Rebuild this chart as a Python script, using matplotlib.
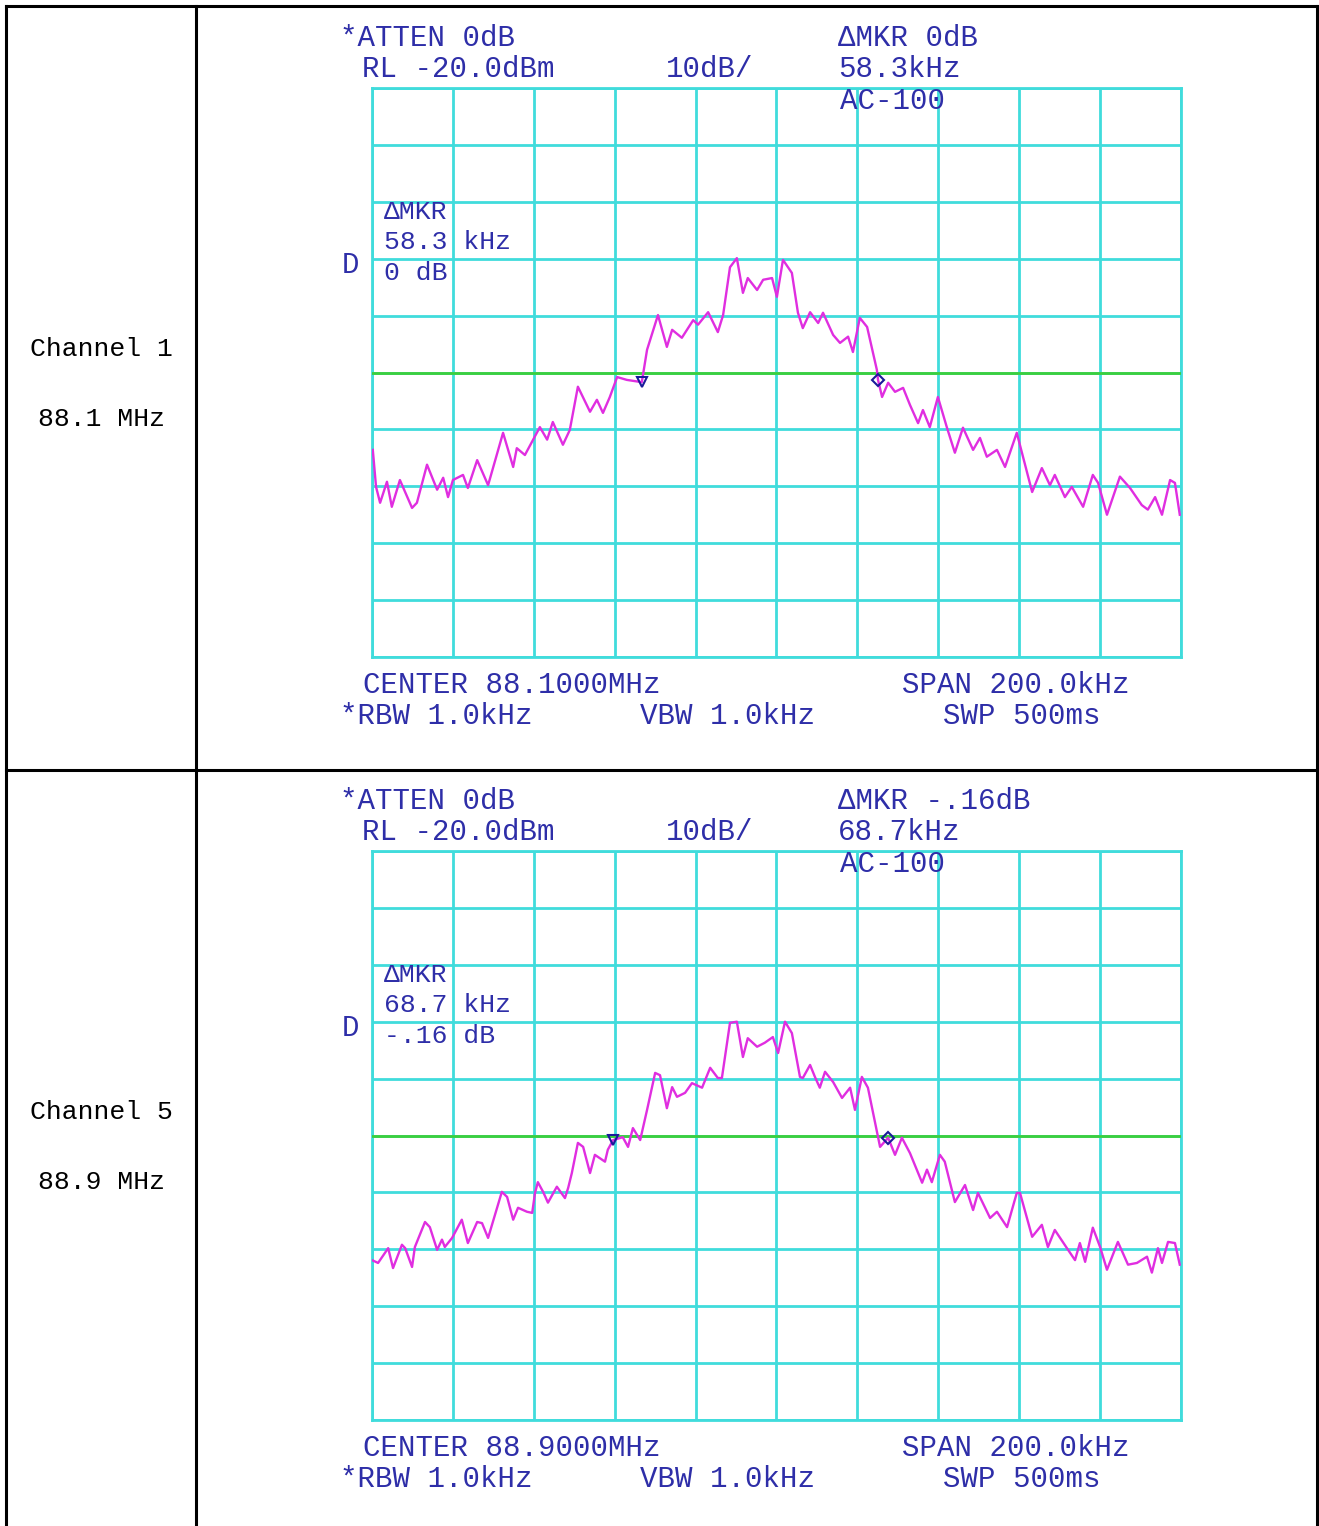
import numpy as np
import matplotlib
matplotlib.use("Agg")
import matplotlib.pyplot as plt
from matplotlib.lines import Line2D

ch1_khz = [-99.8, -99.0, -98.0, -96.3, -95.1, -93.1, -90.1, -88.9, -86.4, -83.9,
           -82.4, -81.2, -80.0, -77.5, -76.3, -74.0, -71.3, -67.6, -65.1, -64.2,
           -62.2, -58.5, -56.7, -55.3, -52.8, -51.1, -49.1, -46.1, -44.4, -42.9,
           -41.2, -39.4, -37.0, -33.3, -32.0, -29.3, -27.1, -25.8, -23.4, -20.6,
           -19.4, -16.9, -14.5, -13.2, -11.5, -9.8, -8.3, -7.1, -4.8, -3.3,
           -1.1, 0.1, 1.6, 3.8, 5.3, 6.5, 8.3, 10.3, 11.5, 14.0,
           15.7, 17.7, 18.9, 20.6, 22.4, 24.8, 25.1, 26.1, 27.6, 29.3,
           31.3, 33.0, 35.0, 36.2, 37.9, 39.9, 42.1, 44.1, 46.1, 48.6,
           50.3, 52.0, 54.5, 56.5, 59.4, 63.2, 65.6, 67.6, 68.8, 71.3,
           73.0, 75.8, 78.2, 79.5, 81.7, 84.9, 87.4, 90.3, 91.8, 93.6,
           95.3, 97.3, 98.5, 99.7]
ch1_dbm = [-83.6, -90.1, -92.9, -89.2, -93.6, -88.9, -93.8, -92.9, -86.2, -90.6,
           -88.5, -91.9, -88.9, -88.0, -90.3, -85.4, -89.8, -80.6, -86.6, -83.3,
           -84.5, -79.6, -81.8, -78.7, -82.7, -80.1, -72.5, -76.9, -74.8, -77.1,
           -74.3, -70.8, -71.3, -71.7, -66.0, -59.9, -65.5, -62.5, -63.9, -60.8,
           -61.6, -59.4, -62.9, -59.9, -51.5, -49.9, -56.0, -53.4, -55.5, -53.7,
           -53.4, -56.7, -50.2, -52.5, -59.5, -62.2, -59.4, -61.3, -59.5, -63.4,
           -64.8, -63.7, -66.4, -60.4, -62.0, -69.5, -71.3, -74.3, -71.8, -73.4,
           -72.7, -75.7, -78.9, -76.6, -79.6, -74.3, -79.6, -84.1, -79.7, -83.6,
           -81.5, -84.8, -83.6, -86.6, -80.6, -91.0, -86.8, -89.8, -88.0, -91.9,
           -90.1, -93.6, -88.0, -89.4, -95.0, -88.3, -90.3, -93.3, -94.1, -91.9,
           -95.0, -88.9, -89.4, -95.0]

ch5_khz = [-100.0, -98.5, -96.0, -94.8, -92.6, -91.8, -90.1, -89.4, -86.9, -85.7,
           -83.9, -82.7, -82.0, -80.2, -77.8, -76.3, -74.0, -72.8, -71.3, -67.9,
           -66.6, -65.1, -63.9, -61.7, -60.4, -59.7, -59.0, -57.7, -56.5, -54.3,
           -52.3, -51.5, -50.6, -49.1, -47.8, -46.1, -44.9, -42.4, -41.7, -40.4,
           -38.0, -36.7, -35.5, -33.7, -32.0, -30.0, -28.8, -27.1, -25.8, -24.6,
           -22.6, -20.9, -18.4, -16.4, -14.5, -13.5, -11.5, -9.8, -8.3, -7.1,
           -4.8, -2.9, -0.9, 0.4, 2.1, 3.8, 5.8, 6.5, 8.3, 9.5,
           10.7, 12.0, 14.0, 16.2, 18.2, 19.4, 21.1, 22.6, 25.6, 27.6,
           29.3, 31.0, 33.0, 36.0, 37.2, 38.4, 40.4, 41.6, 44.1, 46.6,
           48.6, 49.8, 52.8, 54.5, 57.0, 59.4, 60.2, 63.2, 65.6, 67.1,
           68.8, 71.8, 73.8, 75.0, 76.3, 78.2, 80.0, 81.7, 84.4, 86.9,
           89.1, 91.6, 92.8, 94.3, 95.3, 96.8, 98.5, 99.7]
ch5_dbm = [-91.9, -92.4, -89.8, -93.3, -89.2, -89.8, -93.1, -89.6, -85.2, -86.1,
           -90.1, -88.3, -89.6, -88.0, -84.8, -88.9, -85.2, -85.4, -88.0, -79.9,
           -80.8, -84.8, -82.7, -83.4, -83.6, -80.1, -78.2, -79.9, -81.8, -79.0,
           -81.0, -79.2, -76.6, -71.3, -72.0, -76.6, -73.4, -74.6, -72.5, -70.8,
           -70.3, -72.0, -68.7, -70.8, -65.5, -59.0, -59.4, -65.2, -61.5, -63.2,
           -62.5, -60.8, -61.6, -58.1, -59.9, -59.9, -50.2, -50.0, -56.2, -52.9,
           -54.4, -53.7, -52.7, -55.5, -50.0, -52.0, -59.7, -59.9, -57.6, -59.7,
           -61.6, -58.8, -60.6, -63.4, -61.6, -65.5, -59.7, -61.6, -72.0, -70.4,
           -73.4, -70.4, -73.1, -78.3, -76.0, -78.2, -73.4, -74.6, -81.7, -78.7,
           -83.1, -80.1, -84.5, -83.4, -86.1, -80.1, -80.1, -87.8, -85.7, -89.6,
           -86.6, -89.8, -91.9, -88.9, -92.2, -86.2, -89.6, -93.6, -88.7, -92.7,
           -92.4, -91.3, -94.1, -89.8, -92.4, -88.7, -88.9, -92.7]

# delta markers (kHz, dBm)
ch1_markers = [(-33.3, -71.7), (25.1, -71.3)]
ch5_markers = [(-40.4, -70.8), (27.6, -70.4)]

display_line = -70.0
ref_level = -20.0
db_per_div = 10.0

channels = ["Channel 1", "Channel 5"]
freqs_mhz = ["88.1 MHz", "88.9 MHz"]
centers = ["88.1000MHz", "88.9000MHz"]
mkr_khz = ["58.3", "68.7"]
mkr_db = ["0", "-.16"]

W, H = 1319, 1526
BLUE = "#2e2ea8"
CYAN = "#40dcdc"
MAGENTA = "#e02ee0"
GREEN = "#3ccf3c"
MONO = ["Liberation Mono", "DejaVu Sans Mono"]


def px(x, y):
    return x / W, 1 - y / H


def screen(fig, top, khz, dbm, markers, ch):
    ax = fig.add_axes([372 / W, 1 - (top + 569) / H, 809 / W, 569 / H])
    ax.set_xlim(-100, 100)
    ax.set_ylim(ref_level - 10 * db_per_div, ref_level)
    ax.set_xticks(np.arange(-100, 101, 20))
    ax.set_yticks(np.arange(ref_level - 10 * db_per_div, ref_level + 1, db_per_div))
    ax.grid(True, color=CYAN, lw=2)
    ax.tick_params(length=0, labelbottom=False, labelleft=False)
    for s in ax.spines.values():
        s.set_color(CYAN)
        s.set_linewidth(2)
    ax.axhline(display_line, color=GREEN, lw=2, zorder=3)
    ax.plot(khz, dbm, color=MAGENTA, lw=1.7, zorder=4)
    ax.plot(*markers[0], marker="v", ms=7, mfc="none", mec="#1a1a9a", mew=1.5, zorder=5)
    ax.plot(*markers[1], marker="D", ms=6, mfc="none", mec="#1a1a9a", mew=1.5, zorder=5)

    kw = dict(color=BLUE, family=MONO, fontsize=21, va="center", ha="left")
    fig.text(*px(340, top - 50), "*ATTEN 0dB", **kw)
    fig.text(*px(362, top - 19), "RL -20.0dBm", **kw)
    fig.text(*px(666, top - 19), "10dB/", **kw)
    fig.text(*px(838, top - 50), "\u0394MKR " + mkr_db[ch] + "dB", **kw)
    fig.text(*px(838, top - 19), mkr_khz[ch] + "kHz", **kw)
    fig.text(*px(840, top + 13), "AC-100", **kw)
    fig.text(*px(342, top + 177), "D", **kw)
    fig.text(*px(363, top + 597), "CENTER " + centers[ch], **kw)
    fig.text(*px(902, top + 597), "SPAN 200.0kHz", **kw)
    fig.text(*px(340, top + 628), "*RBW 1.0kHz", **kw)
    fig.text(*px(640, top + 628), "VBW 1.0kHz", **kw)
    fig.text(*px(943, top + 628), "SWP 500ms", **kw)

    # marker readout inside the graticule
    kw_in = dict(kw, fontsize=19)
    fig.text(*px(384, top + 124), "\u0394MKR", **kw_in)
    fig.text(*px(384, top + 154), mkr_khz[ch] + " kHz", **kw_in)
    fig.text(*px(384, top + 185), mkr_db[ch] + " dB", **kw_in)

    row_mid = top + 261
    lk = dict(family=["Liberation Mono"], fontsize=19, ha="center", va="center", color="black")
    fig.text(*px(101, row_mid), channels[ch], **lk)
    fig.text(*px(101, row_mid + 70), freqs_mhz[ch], **lk)


fig = plt.figure(figsize=(W / 100, H / 100), dpi=100)
fig.patch.set_facecolor("white")

# table borders
for (x0, y0), (x1, y1) in [((6, 6), (1317, 6)), ((6, 6), (6, H)), ((196, 6), (196, H)),
                           ((1317, 6), (1317, H)), ((6, 770), (1317, 770))]:
    fig.add_artist(Line2D([x0 / W, x1 / W], [1 - y0 / H, 1 - y1 / H],
                          color="black", lw=2.2, transform=fig.transFigure))

screen(fig, 88, ch1_khz, ch1_dbm, ch1_markers, 0)
screen(fig, 851, ch5_khz, ch5_dbm, ch5_markers, 1)

fig.savefig("out.png", dpi=100)
